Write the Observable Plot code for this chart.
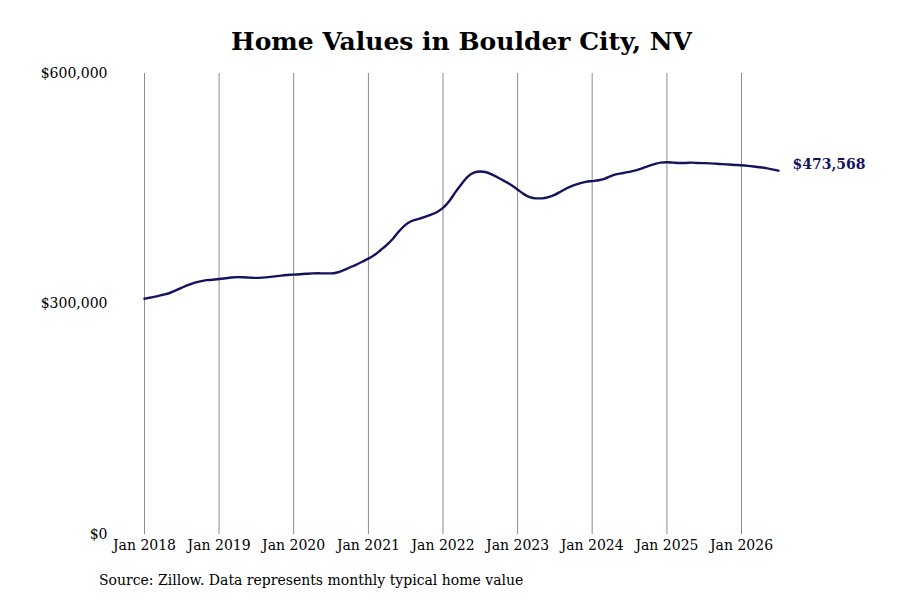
<!DOCTYPE html>
<html>
<head>
<meta charset="utf-8">
<script src="https://cdn.jsdelivr.net/npm/d3@7"></script>
<script src="https://cdn.jsdelivr.net/npm/@observablehq/plot@0.6"></script>
<style>
  html, body { margin: 0; padding: 0; background: #fff; }
  body { width: 900px; height: 600px; overflow: hidden; font-family: "DejaVu Serif", serif; }
  #title { height: 60px; box-sizing: border-box; padding-top: 29px; padding-left: 23px; text-align: center; font-weight: bold; font-size: 25px; line-height: 1; color: #000; }
  #caption { position: absolute; left: 99px; top: 572px; font-size: 14px; color: #000; }
</style>
</head>
<body>
<div id="title"></div>
<div id="chart"></div>
<div id="caption"></div>
<script>
const titleText = "Home Values in Boulder City, NV";
const captionText = "Source: Zillow. Data represents monthly typical home value";
const startMonth = "2018-01";
const endLabel = "$473,568";
const yTicks = [0, 300000, 600000];
const xTickYears = [2018, 2019, 2020, 2021, 2022, 2023, 2024, 2025, 2026];
// Monthly typical home value (thousands of dollars), Jan 2018 .. Jul 2026
const valuesK = [
  306.8, 308.5, 310, 312, 314, 317.5, 321, 324.5, 327.5, 329.5, 331, 331.5,
  332.5, 333.5, 334.5, 335, 334.8, 334.3, 334, 334.3, 335, 336, 337, 337.7,
  338.2, 338.8, 339.3, 339.8, 340, 339.8, 339.8, 341, 344, 347.5, 351, 355,
  359, 364, 370, 377, 385, 395, 403, 408, 410.5, 413, 416, 419.5,
  425, 434, 445, 456, 465.5, 471, 472.5, 471.5, 468, 464, 459.5, 455,
  449, 443, 439, 437.5, 437.5, 439, 442, 446.5, 451, 454.5, 457, 459,
  460, 461, 463, 466.5, 469, 470.5, 472, 474, 476.5, 479.5, 482, 484,
  484.5, 484, 483.5, 483.5, 484, 483.5, 483.3, 483, 482.5, 482, 481.5, 481,
  480.5, 479.8, 479, 478, 476.8, 475.2, 473.568
];

document.getElementById("title").textContent = titleText;
document.getElementById("caption").textContent = captionText;

const [sy, sm] = startMonth.split("-").map(Number);
const data = valuesK.map((v, i) => ({ date: new Date(sy, sm - 1 + i, 1), value: v * 1000 }));
const last = data[data.length - 1];
const xTicks = xTickYears.map(y => new Date(y, 0, 1));
const fmtDate = d3.timeFormat("Jan %Y");
const navy = "#14145e";

const chart = Plot.plot({
  width: 900,
  height: 500,
  marginTop: 13,
  marginBottom: 26,
  marginLeft: 144,
  marginRight: 122,
  style: { fontFamily: "DejaVu Serif, serif", fontSize: "14px", color: "#000", background: "#fff" },
  x: { type: "time", domain: [data[0].date, last.date], ticks: xTicks, tickFormat: fmtDate },
  y: { domain: [0, 600000], ticks: yTicks, tickFormat: d => "$" + d3.format(",")(d) },
  marks: [
    Plot.ruleX(xTicks, { stroke: "#8c8c8c", strokeWidth: 1, strokeOpacity: 1 }),
    Plot.axisX({ ticks: xTicks, tickFormat: fmtDate, tickSize: 0, tickPadding: 6, fontSize: 14, label: null }),
    Plot.axisY({ ticks: yTicks, tickFormat: d => "$" + d3.format(",")(d), tickSize: 0, tickPadding: 37, fontSize: 14, label: null }),
    Plot.lineY(data, { x: "date", y: "value", stroke: navy, strokeWidth: 2.4, curve: "monotone-x" }),
    Plot.text([last], { x: "date", y: "value", text: () => endLabel, dx: 14, dy: -6, textAnchor: "start", fill: navy, fontWeight: "bold", fontSize: 14 })
  ]
});
document.getElementById("chart").appendChild(chart);
</script>
</body>
</html>
